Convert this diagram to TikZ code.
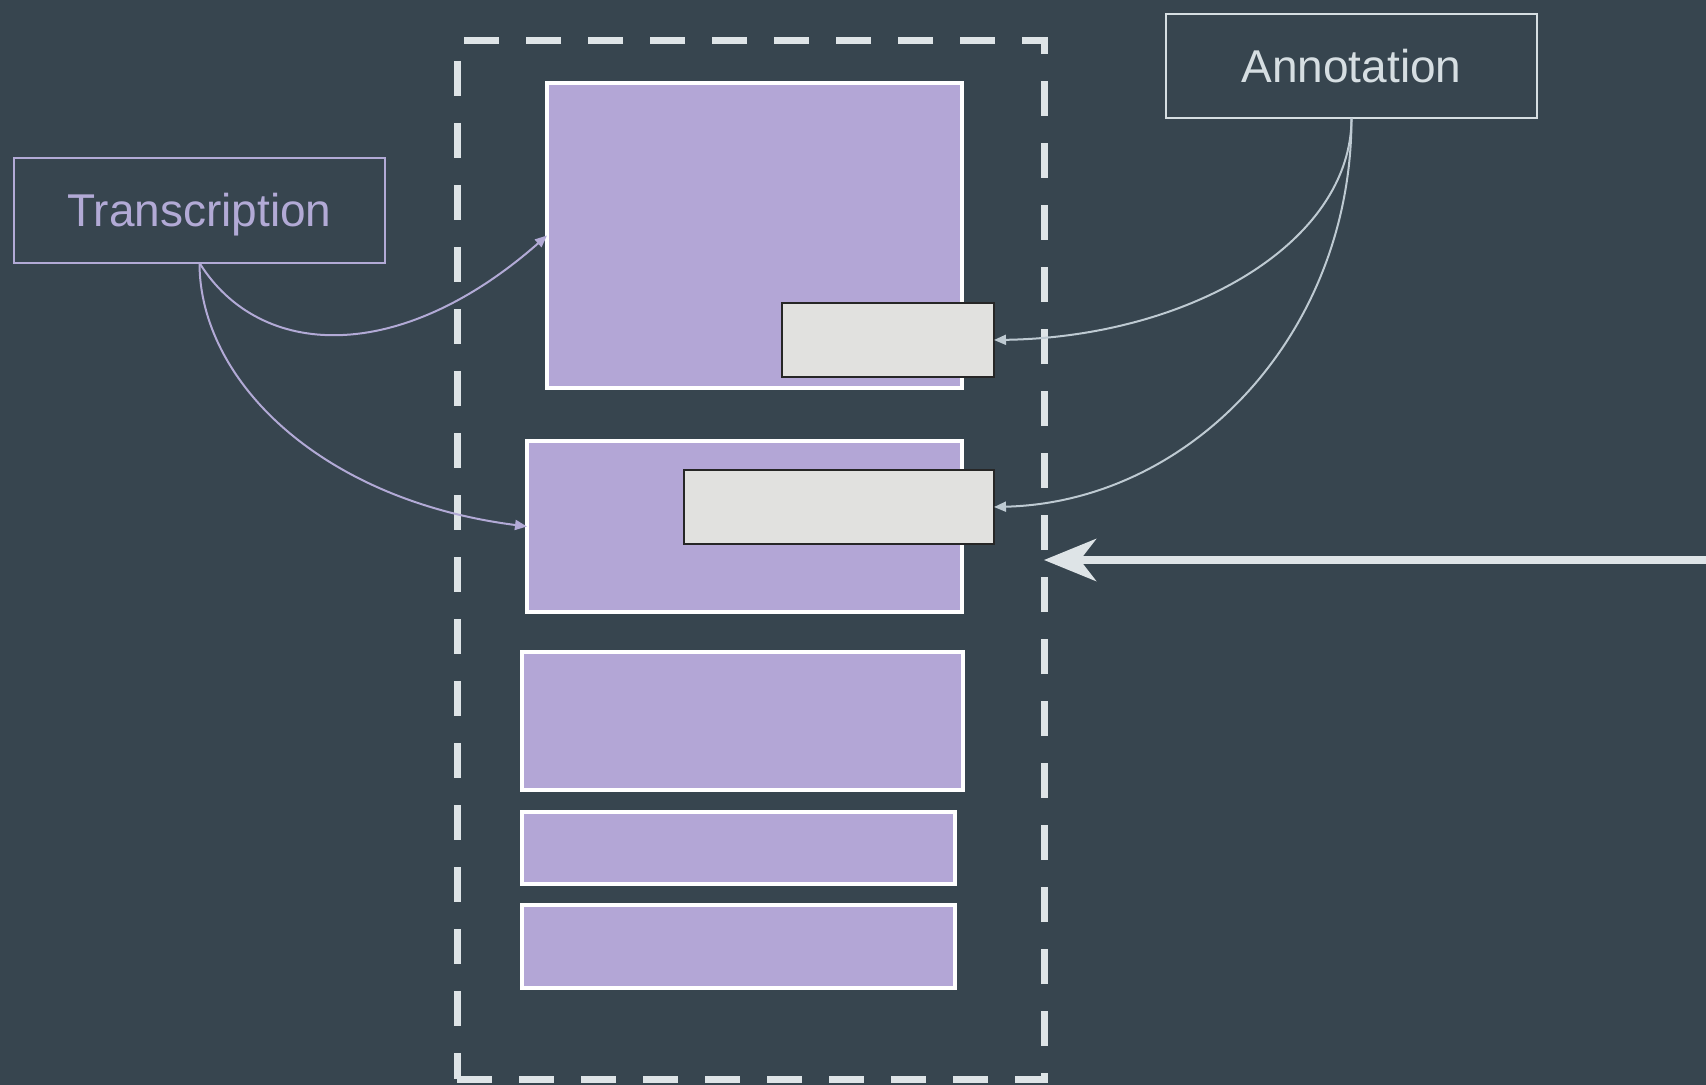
\documentclass[tikz,border=0pt]{standalone}
\usepackage{fontspec}
\setmainfont{Liberation Sans}
\usetikzlibrary{arrows.meta}
\definecolor{bg}{RGB}{55,69,79}
\definecolor{purp}{RGB}{179,166,214}
\definecolor{gry}{RGB}{225,225,223}
\definecolor{lav}{RGB}{178,170,214}
\definecolor{anc}{RGB}{214,222,226}
\definecolor{ancl}{RGB}{190,202,210}
\definecolor{dashc}{RGB}{222,228,231}
\begin{document}
\begin{tikzpicture}[x=0.5pt,y=-0.5pt,
  pbox/.style={draw=white, line width=1.6pt, fill=purp, inner sep=0pt, outer sep=0pt},
  gbox/.style={draw=black!85, line width=1.2pt, fill=gry, inner sep=0pt, outer sep=0pt},
  lbox/.style={line width=1.2pt, inner sep=0pt, outer sep=0pt, minimum width=185.5pt,
    font=\fontsize{23}{27}\selectfont, text height=16.5pt, text depth=0pt},
  frame/.style={draw=dashc, line width=3.5pt, dash pattern=on 17.5pt off 13.5pt, inner sep=0pt, outer sep=0pt},
  tlink/.style={draw=lav, line width=1pt, -{Triangle[length=6pt,width=5pt]}},
  alink/.style={draw=ancl, line width=1pt, -{Triangle[length=6pt,width=5pt]}},
  bigarrow/.style={draw=dashc, line width=3.8pt, -{Stealth[length=26pt,width=21pt,inset=8pt]}}
]
\fill[bg] (0,0) rectangle (1706,1085);
\useasboundingbox (0,0) rectangle (1706,1085);

% dashed frame
\node[frame, minimum width=293.5pt, minimum height=519pt] (fr) at (750.5,560) {};

% purple boxes
\node[pbox, minimum width=207.5pt, minimum height=152.5pt] (b1) at (754.5,235.5) {};
\node[pbox, minimum width=217.5pt, minimum height=85.5pt] (b2) at (744.5,526.5) {};
\node[pbox, minimum width=220.5pt, minimum height=69pt] (b3) at (742.5,721) {};
\node[pbox, minimum width=216.5pt, minimum height=36pt] (b4) at (738.5,848) {};
\node[pbox, minimum width=216.5pt, minimum height=41.5pt] (b5) at (738.5,946.5) {};

% grey boxes
\node[gbox, minimum width=106pt, minimum height=37pt] (g1) at (888,340) {};
\node[gbox, minimum width=155pt, minimum height=37pt] (g2) at (839,507) {};

% label boxes
\node[lbox, draw=lav, text=lav, minimum height=52.5pt] (tr) at (199.5,210.5) {Transcription};
\node[lbox, draw=anc, text=anc, minimum height=52pt] (an) at (1351.5,66) {Annotation};

% connectors
\draw[tlink] (tr.south) .. controls +(60.5,97) and +(-147,129.5) .. (b1.west);
\draw[tlink] (tr.south) .. controls +(0,117) and +(-207,-26.5) .. (b2.west);
\draw[alink] (an.south) .. controls +(0,125) and +(195,-3) .. (g1.east);
\draw[alink] (an.south) .. controls +(0,215) and +(198,-5) .. (g2.east);

% big arrow
\coordinate (src) at (1706,560);
\draw[bigarrow] (src) -- (fr.east);
\end{tikzpicture}
\end{document}
